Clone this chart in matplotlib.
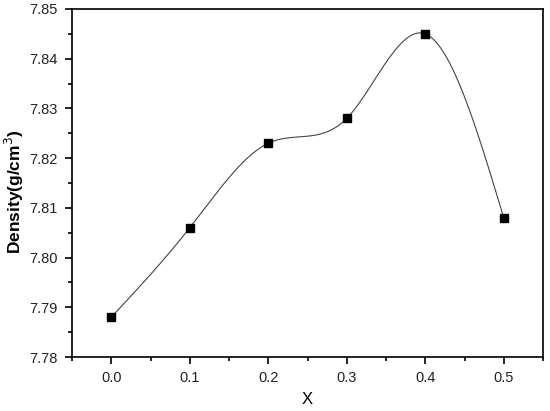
import numpy as np
import matplotlib
matplotlib.use("Agg")
import matplotlib.pyplot as plt
from matplotlib.ticker import MultipleLocator, FormatStrFormatter

x_vals = [0.0, 0.1, 0.2, 0.3, 0.4, 0.5]
density = [7.788, 7.806, 7.823, 7.828, 7.845, 7.808]


def natural_spline(x, y, xs):
    x = np.asarray(x, float); y = np.asarray(y, float)
    n = len(x)
    h = np.diff(x)
    A = np.zeros((n, n)); b = np.zeros(n)
    A[0, 0] = 1; A[-1, -1] = 1
    for i in range(1, n - 1):
        A[i, i - 1] = h[i - 1]
        A[i, i] = 2 * (h[i - 1] + h[i])
        A[i, i + 1] = h[i]
        b[i] = 3 * ((y[i + 1] - y[i]) / h[i] - (y[i] - y[i - 1]) / h[i - 1])
    c = np.linalg.solve(A, b)
    out = np.empty_like(xs)
    for k, xv in enumerate(xs):
        i = min(max(np.searchsorted(x, xv) - 1, 0), n - 2)
        dx = xv - x[i]
        bb = (y[i + 1] - y[i]) / h[i] - h[i] * (2 * c[i] + c[i + 1]) / 3
        d = (c[i + 1] - c[i]) / (3 * h[i])
        out[k] = y[i] + bb * dx + c[i] * dx ** 2 + d * dx ** 3
    return out


plt.rcParams['font.family'] = ['Liberation Sans', 'DejaVu Sans']
fig = plt.figure(figsize=(5.5, 4.11), dpi=100)
ax = fig.add_axes([72 / 550, 1 - 357 / 411, (543 - 72) / 550, (357 - 9) / 411])

xs = np.linspace(x_vals[0], x_vals[-1], 400)
ax.plot(xs, natural_spline(x_vals, density, xs), color='#444444', lw=0.8)
ax.plot(x_vals, density, 's', color='black', ms=6, ls='none')

ax.set_xlim(-0.05, 0.55)
ax.set_ylim(7.78, 7.85)
ax.xaxis.set_major_locator(MultipleLocator(0.1))
ax.xaxis.set_minor_locator(MultipleLocator(0.05))
ax.yaxis.set_major_locator(MultipleLocator(0.01))
ax.yaxis.set_minor_locator(MultipleLocator(0.005))
ax.xaxis.set_major_formatter(FormatStrFormatter('%.1f'))
ax.yaxis.set_major_formatter(FormatStrFormatter('%.2f'))
ax.tick_params(which='both', direction='out', top=False, right=False, width=1.2)
ax.tick_params(which='major', length=5, labelsize=10.5, pad=5, labelcolor='#222222')
ax.tick_params(which='minor', length=3)
for s in ax.spines.values():
    s.set_linewidth(1.2)
ax.set_xlabel('X', fontsize=12, labelpad=5)
ax.set_ylabel('Density(g/cm$^3$)', fontsize=12.5, fontweight='bold')
ax.yaxis.set_label_coords(-0.098, 0.474)

fig.savefig('out.png', dpi=100)
